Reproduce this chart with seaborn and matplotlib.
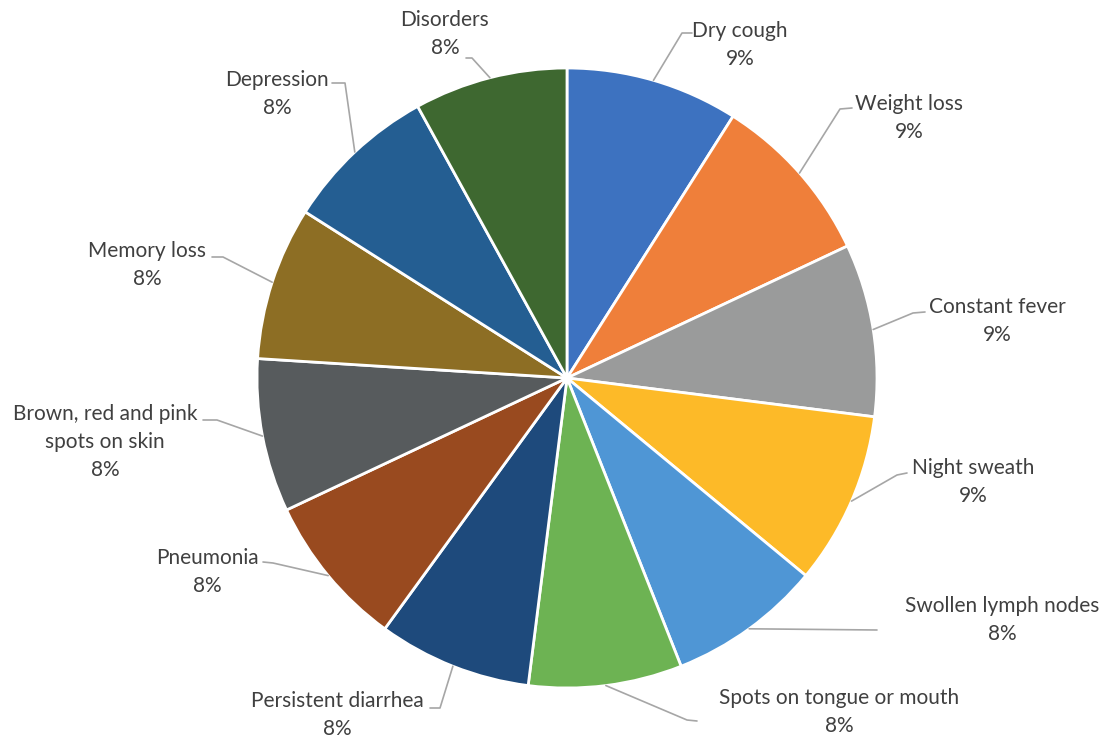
import matplotlib
matplotlib.use("Agg")
import matplotlib.pyplot as plt
import seaborn as sns
import numpy as np

# data
symptoms = ["Dry cough", "Weight loss", "Constant fever", "Night sweath",
            "Swollen lymph nodes", "Spots on tongue or mouth", "Persistent diarrhea",
            "Pneumonia", "Brown, red and pink\nspots on skin", "Memory loss",
            "Depression", "Disorders"]
shares = [9, 9, 9, 9, 8, 8, 8, 8, 8, 8, 8, 8]

# office-like palette, as it looks in the scan
colors = ["#3D72C0", "#EF7F3A", "#9A9B9B", "#FDBA28", "#4F96D5", "#6DB353",
          "#1E4A7C", "#994A1F", "#575B5D", "#8D6E24", "#245E92", "#3E6830"]

# layout (pixel coords, y from top) - label centre, elbow, line end
W, H = 1117, 739
pie_cx, pie_cy, pie_r = 567, 378, 310
label_xy = [(740, 45), (909, 118), (997, 321), (973, 482), (1002, 620), (839, 712),
            (337, 715), (207, 572), (105, 442), (147, 265), (277, 94), (445, 34)]
elbow_xy = [(682, 33), (840, 109), (913, 313), (897, 475), (877, 630), (687, 720),
            (440, 708), (273, 563), (217, 420), (223, 257), (345, 83), (472, 58)]
end_xy = [(692, 33), (852, 108), (925, 312), (907, 473), (877, 630), (697, 721),
          (430, 708), (263, 562), (203, 420), (212, 257), (332, 83), (466, 58)]

sns.set_style("white")
plt.rcParams['font.family'] = ['Lato', 'DejaVu Sans']

fig = plt.figure(figsize=(W / 100, H / 100), dpi=100)
ax = fig.add_axes([0, 0, 1, 1])


def flip(p):
    return p[0], H - p[1]


wedges, _ = ax.pie(shares, colors=colors, startangle=90, counterclock=False,
                   center=(pie_cx, H - pie_cy), radius=pie_r,
                   wedgeprops=dict(edgecolor="white", linewidth=2))

total = sum(shares)
for w, name, v, lxy, exy, nxy in zip(wedges, symptoms, shares, label_xy, elbow_xy, end_xy):
    mid = np.deg2rad((w.theta1 + w.theta2) / 2)
    sx = pie_cx + pie_r * np.cos(mid)
    sy = (H - pie_cy) + pie_r * np.sin(mid)
    ex, ey = flip(exy)
    nx, ny = flip(nxy)
    ax.plot([sx, ex, nx], [sy, ey, ny], color="#A6A6A6", lw=1.2, zorder=1)
    lx, ly = flip(lxy)
    ax.text(lx, ly, f"{name}\n{v / total * 100:.0f}%", ha="center", va="center",
            multialignment="center", fontsize=15, color="#404040", linespacing=1.5)

ax.set_xlim(0, W)
ax.set_ylim(0, H)
ax.set_aspect("equal")
ax.axis("off")

fig.savefig("out.png", dpi=100, facecolor="white")
